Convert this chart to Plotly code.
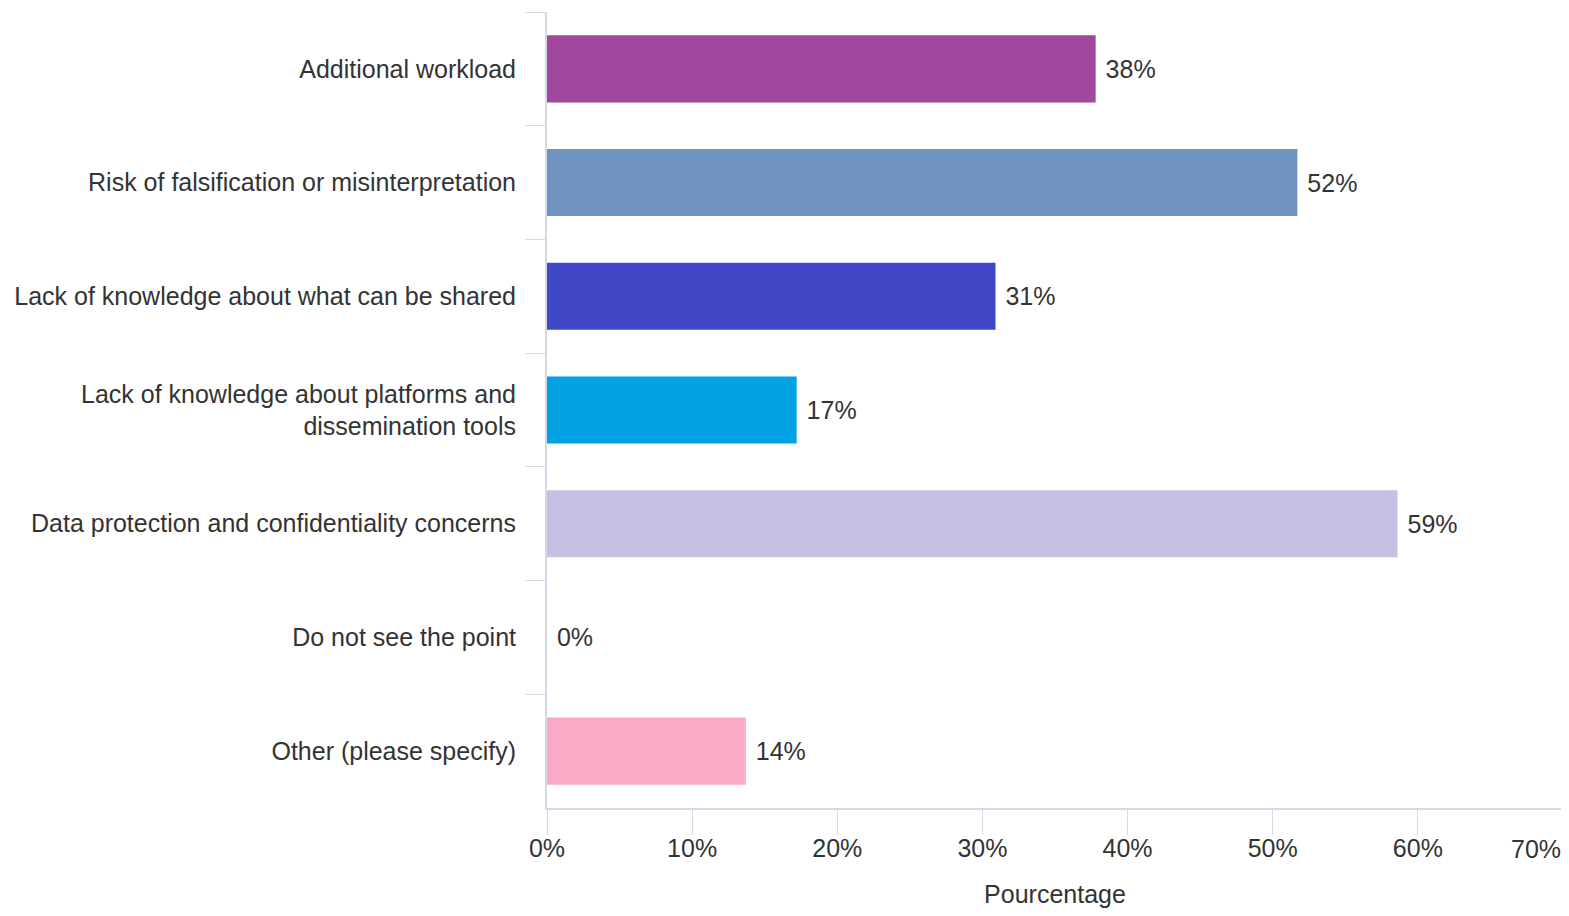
import plotly.graph_objects as go

categories = [
    "Additional workload",
    "Risk of falsification or misinterpretation",
    "Lack of knowledge about what can be shared",
    "Lack of knowledge about platforms and<br>dissemination tools",
    "Data protection and confidentiality concerns",
    "Do not see the point",
    "Other (please specify)",
]
values = [37.8, 51.7, 30.9, 17.2, 58.6, 0, 13.7]
labels = ["38%", "52%", "31%", "17%", "59%", "0%", "14%"]
colors = ["#A0489E", "#7092BF", "#4048C8", "#00A2E4", "#C7BFE4", "#CCCCCC", "#FAAAC6"]
tick_vals = [0, 10, 20, 30, 40, 50, 60]
tick_text = ["0%", "10%", "20%", "30%", "40%", "50%", "60%"]
last_tick = 70
last_tick_text = "70%"

FONT = "Liberation Sans Narrow, Liberation Sans, Arial, sans-serif"
TXT = "#333333"
AX = "#D3D9E6"

fig = go.Figure(go.Bar(
    x=values, y=categories, orientation="h",
    marker=dict(color=colors, line=dict(width=0)),
    text=labels, texttemplate="\u00a0%{text}",
    textposition="outside", cliponaxis=False,
    textfont=dict(family=FONT, size=25, color=TXT),
    width=0.59,
))

# last tick label, kept inside the page like in the reference
fig.add_annotation(
    x=last_tick, xref="x", y=0, yref="paper", text=last_tick_text,
    showarrow=False, xanchor="right", yanchor="top", yshift=-25,
    font=dict(family=FONT, size=25, color=TXT),
)

fig.update_layout(
    width=1561, height=900,
    margin=dict(l=539, r=6, t=4, b=100),
    plot_bgcolor="white", paper_bgcolor="white",
    font=dict(family=FONT, size=25, color=TXT),
    showlegend=False,
    xaxis=dict(
        range=[0, 70], tickvals=tick_vals + [last_tick], ticktext=tick_text + [""],
        automargin=False,
        showgrid=False, zeroline=False,
        showline=True, linecolor=AX, linewidth=2,
        ticks="outside", ticklen=25, tickcolor=AX, tickwidth=1,
        tickfont=dict(family=FONT, size=25, color=TXT),
        ticklabelstandoff=-8,
        title=dict(text="Pourcentage", font=dict(family=FONT, size=25, color=TXT), standoff=32),
    ),
    yaxis=dict(
        categoryorder="array", categoryarray=categories,
        autorange="reversed", automargin=False,
        showgrid=False, zeroline=False,
        showline=True, linecolor=AX, linewidth=2,
        ticks="outside", tickson="boundaries", ticklen=20, tickcolor=AX, tickwidth=1,
        tickfont=dict(family=FONT, size=25, color=TXT),
        ticklabelstandoff=24,
    ),
)

fig.write_html("out.html")
